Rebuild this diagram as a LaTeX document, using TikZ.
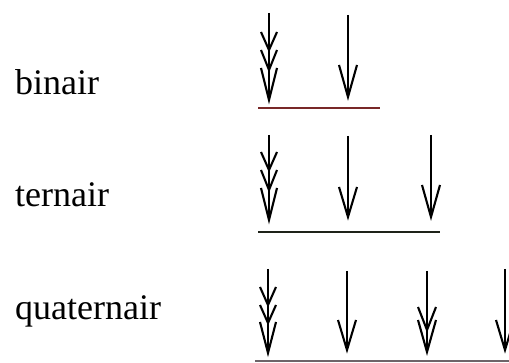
\documentclass[tikz,border=0pt]{standalone}
\usepackage{fontspec}
\setmainfont{Liberation Serif}
\usetikzlibrary{calc}
\begin{document}
\begin{tikzpicture}[x=1pt,y=-1pt,
  lbl/.style={anchor=base west,inner sep=0pt,font=\fontsize{36}{40}\selectfont},
  stem/.style={draw=black,line width=1.8pt},
  chevron/.style={draw=black,line width=2.1pt,line join=miter},
  base/.style={line width=1.8pt}]
\useasboundingbox (0,0) rectangle (509,363);
\clip (0,0) rectangle (509,363);
% labels
\node[lbl] (bin) at (15,95) {binair};
\node[lbl] (ter) at (15,207) {ternair};
\node[lbl] (qua) at (15,320) {quaternair};
% row 1
\coordinate (a11t) at (269,13); \coordinate (a11b) at (269,100);
\coordinate (a12t) at (348,15); \coordinate (a12b) at (348,97);
\draw[stem] (a11t) -- (a11b);
\draw[chevron] ($(a11t)+(-8,19)$) -- ($(a11t)+(0,37)$) -- ($(a11t)+(8,19)$);
\draw[chevron] ($(a11t)+(-8,37)$) -- ($(a11t)+(0,57)$) -- ($(a11t)+(8,37)$);
\draw[chevron] ($(a11t)+(-8,55)$) -- (a11b) -- ($(a11t)+(8,55)$);
\draw[stem] (a12t) -- (a12b);
\draw[chevron] ($(a12b)+(-9,-32)$) -- (a12b) -- ($(a12b)+(9,-32)$);
\coordinate (l1a) at (258,108); \coordinate (l1b) at (380,108);
\draw[base,draw={rgb,255:red,120;green,40;blue,40}] (l1a) -- (l1b);
% row 2
\coordinate (a21t) at (269,135); \coordinate (a21b) at (269,220);
\coordinate (a22t) at (348,136); \coordinate (a22b) at (348,217);
\coordinate (a23t) at (431,135); \coordinate (a23b) at (431,217);
\draw[stem] (a21t) -- (a21b);
\draw[chevron] ($(a21t)+(-8,17)$) -- ($(a21t)+(0,35)$) -- ($(a21t)+(8,17)$);
\draw[chevron] ($(a21t)+(-8,35)$) -- ($(a21t)+(0,55)$) -- ($(a21t)+(8,35)$);
\draw[chevron] ($(a21t)+(-8,53)$) -- (a21b) -- ($(a21t)+(8,53)$);
\draw[stem] (a22t) -- (a22b);
\draw[chevron] ($(a22b)+(-9,-30)$) -- (a22b) -- ($(a22b)+(9,-30)$);
\draw[stem] (a23t) -- (a23b);
\draw[chevron] ($(a23b)+(-9,-32)$) -- (a23b) -- ($(a23b)+(9,-32)$);
\coordinate (l2a) at (258,232); \coordinate (l2b) at (440,232);
\draw[base,draw={rgb,255:red,30;green,35;blue,25}] (l2a) -- (l2b);
% row 3
\coordinate (a31t) at (268,269); \coordinate (a31b) at (268,353);
\coordinate (a32t) at (347,271); \coordinate (a32b) at (347,350);
\coordinate (a33t) at (427,271); \coordinate (a33b) at (427,352);
\coordinate (a34t) at (505,269); \coordinate (a34b) at (505,350);
\draw[stem] (a31t) -- (a31b);
\draw[chevron] ($(a31t)+(-8,18)$) -- ($(a31t)+(0,36)$) -- ($(a31t)+(8,18)$);
\draw[chevron] ($(a31t)+(-8,36)$) -- ($(a31t)+(0,54)$) -- ($(a31t)+(8,36)$);
\draw[chevron] ($(a31t)+(-8,53)$) -- (a31b) -- ($(a31t)+(8,53)$);
\draw[stem] (a32t) -- (a32b);
\draw[chevron] ($(a32b)+(-9,-30)$) -- (a32b) -- ($(a32b)+(9,-30)$);
\draw[stem] (a33t) -- (a33b);
\draw[chevron] ($(a33b)+(-9,-45)$) -- ($(a33b)+(0,-22)$) -- ($(a33b)+(9,-45)$);
\draw[chevron] ($(a33b)+(-9,-32)$) -- (a33b) -- ($(a33b)+(9,-32)$);
\draw[stem] (a34t) -- (a34b);
\draw[chevron] ($(a34b)+(-9,-30)$) -- (a34b) -- ($(a34b)+(9,-30)$);
\coordinate (l3a) at (255,361); \coordinate (l3b) at (509,361);
\draw[base,draw={rgb,255:red,110;green,100;blue,105}] (l3a) -- (l3b);
\end{tikzpicture}
\end{document}
